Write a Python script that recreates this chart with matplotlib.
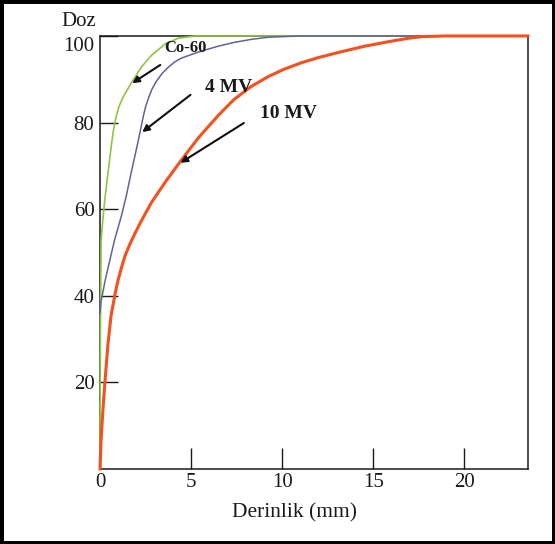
import matplotlib
matplotlib.use('Agg')
import matplotlib.pyplot as plt
from matplotlib.patches import Rectangle

plt.rcParams['font.family'] = ['Liberation Serif', 'DejaVu Serif']

# Depth-dose curves (depth in mm, dose in %)
co60_x = [0.0, 0.02, 0.06, 0.17, 0.28, 0.44, 0.63, 0.75, 0.88, 1.05, 1.27, 1.71, 2.27, 2.82,
          3.59, 4.31, 5.25, 23.5]
co60_y = [0.0, 30.0, 52.9, 58.2, 62.8, 68.4, 75.0, 78.5, 81.3, 83.8, 85.9, 89.1, 92.8, 95.5,
          98.2, 99.5, 100.0, 100.0]

mv4_x = [0.0, 0.05, 0.28, 0.5, 0.8, 1.16, 1.44, 1.71, 1.99, 2.21, 2.38, 2.5, 2.65, 2.85, 3.09,
         3.4, 3.76, 4.1, 4.48, 5.41, 6.46, 7.35, 8.29, 9.23, 11.0, 23.5]
mv4_y = [36.0, 38.5, 43.5, 47.5, 52.9, 58.2, 63.0, 68.4, 73.7, 78.0, 81.5, 83.6, 85.5, 87.7, 89.5,
         91.3, 92.8, 94.0, 94.9, 96.3, 97.6, 98.5, 99.2, 99.7, 100.0, 100.0]

mv10_x = [0.0, 0.06, 0.17, 0.28, 0.44, 0.61, 0.83, 0.99, 1.2, 1.38, 1.65, 1.93, 2.27, 2.82, 3.59,
          4.48, 5.41, 6.46, 7.35, 8.29, 9.23, 10.1, 11.05, 11.99, 13.1, 14.5, 16.0, 17.0, 17.7,
          19.0, 23.5]
mv10_y = [0.0, 6.7, 14.3, 20.6, 29.0, 35.5, 40.5, 43.6, 46.8, 49.3, 52.0, 54.5, 57.3, 61.5, 66.3,
          71.4, 76.5, 81.5, 85.3, 88.3, 90.6, 92.3, 93.8, 95.0, 96.2, 97.6, 98.8, 99.5, 99.85,
          100.0, 100.0]

x_ticks = [0, 5, 10, 15, 20]
y_ticks = [20, 40, 60, 80, 100]

labels = ['Co-60', '4 MV', '10 MV']
label_pos = [(4.7, 97.2), (7.07, 88.0), (10.33, 82.2)]
arrow_start = [(3.31, 93.3), (4.97, 86.4), (7.9, 79.9)]
arrow_tip = [(1.77, 89.1), (2.32, 77.8), (4.42, 70.7)]
label_size = [12, 14, 14]

fig = plt.figure(figsize=(5.55, 5.44), dpi=100)
ax = fig.add_axes([0.1802, 0.1379, 0.771, 0.796])

ax.plot(co60_x, co60_y, color='#8dc641', lw=1.2, clip_on=False, zorder=3, solid_joinstyle='round')
ax.plot(mv4_x, mv4_y, color='#62629a', lw=1.1, clip_on=False, zorder=4, solid_joinstyle='round')
ax.plot(mv10_x, mv10_y, color='#f4511e', lw=2.2, clip_on=False, zorder=5, solid_joinstyle='round')

for lab, pos, st, tip, sz in zip(labels, label_pos, arrow_start, arrow_tip, label_size):
    ax.text(pos[0], pos[1], lab, fontsize=sz, fontweight='bold', ha='center', va='center',
            color='#1a1a1a', zorder=6)
    ax.annotate('', xy=tip, xytext=st,
                arrowprops=dict(arrowstyle='-|>', color='#111111', lw=1.5, mutation_scale=10,
                                shrinkA=0, shrinkB=0), zorder=6)

ax.set_xlim(0, 23.5)
ax.set_ylim(0, 100)
ax.set_xticks(x_ticks)
ax.set_yticks(y_ticks)
ax.set_yticklabels([str(v) for v in y_ticks[:-1]] + [''])
ax.tick_params(axis='x', direction='in', length=15, width=1, labelsize=15, pad=3, colors='#1a1a1a')
ax.tick_params(axis='y', direction='in', length=13, width=1, labelsize=15, pad=4, colors='#1a1a1a')
for s in ax.spines.values():
    s.set_linewidth(1.1)
    s.set_color('#1a1a1a')

# top tick label sits a little below the top spine in the original
ax.annotate(str(y_ticks[-1]), xy=(0, y_ticks[-1]), xytext=(-4, -7.5), textcoords='offset points',
            ha='right', va='center', fontsize=15, color='#1a1a1a', annotation_clip=False)

fig.text(294 / 555, 1 - 513 / 544, 'Derinlik (mm)', fontsize=15.5, ha='center', va='center',
         color='#1a1a1a')
fig.text(79 / 555, 1 - 22 / 544, 'Doz', fontsize=15, ha='center', va='center', color='#1a1a1a')

fig.patches.append(Rectangle((0, 0), 1, 1, transform=fig.transFigure, fill=False,
                             edgecolor='black', linewidth=5))

fig.savefig('out.png', dpi=100)
